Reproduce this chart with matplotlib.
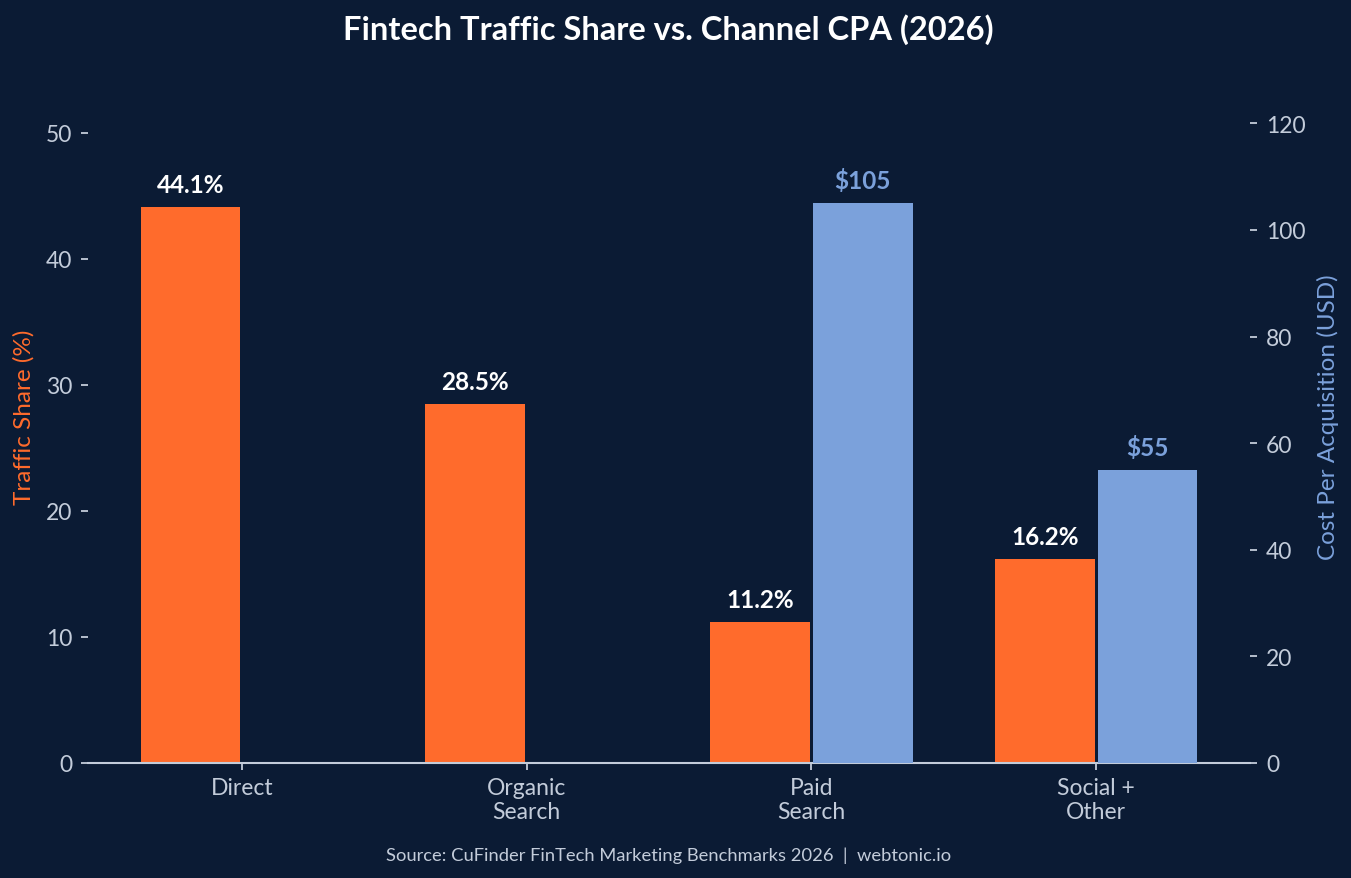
import numpy as np
import matplotlib.pyplot as plt

plt.rcParams['font.family'] = ['Lato', 'DejaVu Sans']

# 数据
channels = ['Direct', 'Organic\nSearch', 'Paid\nSearch', 'Social +\nOther']
traffic_share = [44.1, 28.5, 11.2, 16.2]
cpa_usd = [np.nan, np.nan, 105, 55]

bg = '#0b1b34'
orange = '#ff6b2c'
blue = '#7ba1db'
tick_col = '#c3ccda'

fig = plt.figure(figsize=(13.51, 8.79), dpi=100, facecolor=bg)
ax = fig.add_axes([88 / 1351, 1 - 764 / 879, (1250 - 88) / 1351, (764 - 71) / 879])
ax.set_facecolor(bg)
ax2 = ax.twinx()

x = np.arange(len(channels))
w = 0.35
b1 = ax.bar(x - 0.18, traffic_share, w, color=orange, zorder=2)
b2 = ax2.bar(x + 0.18, cpa_usd, w, color=blue, zorder=2)

for rect, v in zip(b1, traffic_share):
    ax.annotate('%.1f%%' % v, (rect.get_x() + rect.get_width() / 2, v),
                xytext=(0, 8), textcoords='offset points', ha='center', va='bottom',
                fontsize=17.5, fontweight='bold', color='white')
for rect, v in zip(b2, cpa_usd):
    if np.isnan(v):
        continue
    ax2.annotate('$%d' % v, (rect.get_x() + rect.get_width() / 2, v),
                 xytext=(0, 8), textcoords='offset points', ha='center', va='bottom',
                 fontsize=17.5, fontweight='bold', color=blue)

ax.set_xlim(-0.54, 3.54)
ax.set_ylim(0, 55)
ax2.set_ylim(0, 130)
ax.set_yticks([0, 10, 20, 30, 40, 50])
ax2.set_yticks([0, 20, 40, 60, 80, 100, 120])
ax.set_xticks(x)
ax.set_xticklabels(channels)

for a in (ax, ax2):
    for s in a.spines.values():
        s.set_visible(False)
    a.tick_params(colors=tick_col, labelsize=16.5, length=5, width=1.3, pad=6.5)
ax.spines['bottom'].set_visible(True)
ax.spines['bottom'].set_color(tick_col)
ax.spines['bottom'].set_linewidth(1.5)
ax.tick_params(axis='x', length=5, pad=5)

ax.set_ylabel('Traffic Share (%)', color=orange, fontsize=17.5, labelpad=8)
ax2.set_ylabel('Cost Per Acquisition (USD)', color=blue, fontsize=17.5, labelpad=8)

fig.text(0.4945, 0.966, 'Fintech Traffic Share vs. Channel CPA (2026)', ha='center', va='center',
         fontsize=23.5, fontweight='bold', color='white')
fig.text(0.4945, 0.026, 'Source: CuFinder FinTech Marketing Benchmarks 2026  |  webtonic.io',
         ha='center', va='center', fontsize=13.2, color=tick_col)

fig.savefig('out.png', dpi=100, facecolor=bg)
